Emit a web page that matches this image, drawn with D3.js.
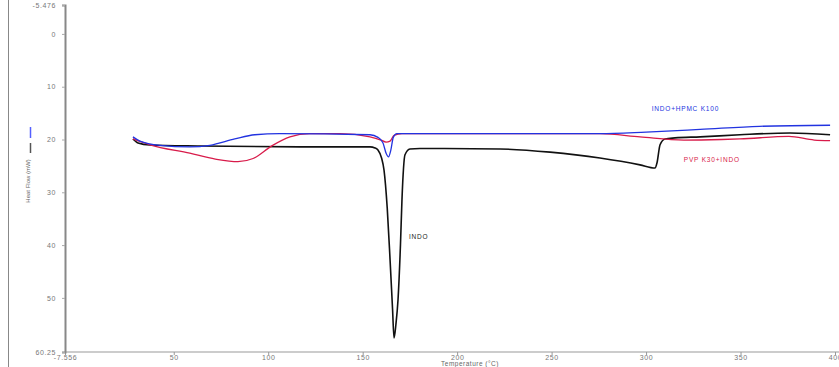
<!DOCTYPE html>
<html>
<head>
<meta charset="utf-8">
<script src="https://cdn.jsdelivr.net/npm/d3@7"></script>
<style>
  body { margin: 0; background: #fff; }
  svg { display: block; font-family: "Liberation Sans", Arial, sans-serif; }
</style>
</head>
<body>
<svg id="chart"></svg>
<script>
// temperature (°C) and heat flow (mW)
const indoT = [28.4, 31.1, 37.4, 63.9, 116.8, 153.9, 156.5, 158.1, 160, 161.3, 163, 164.5, 165.8, 166.6, 167.6, 168.7, 170, 170.8, 172.4, 175.0, 180.3, 222.7, 249.2, 275.6, 296.8, 304.7, 305.8, 307.4, 310.0, 315.3, 328.6, 349.7, 376.2, 397.4];
const indoHF = [19.9, 20.66, 21.04, 21.23, 21.4, 21.4, 21.6, 22.0, 23.5, 25.8, 33, 42.8, 52, 57.6, 55, 50.4, 40, 31.4, 22.9, 21.8, 21.7, 21.8, 22.4, 23.5, 24.8, 25.4, 24.4, 21.0, 19.9, 19.7, 19.5, 19.1, 18.77, 19.1];

const hpmcT = [28.4, 32.1, 42.7, 58.5, 69.1, 82.3, 92.9, 106.1, 153.9, 158.1, 160.7, 162.4, 163.7, 164.9, 166.2, 168.1, 175.0, 250, 275.6, 300, 328.6, 360, 397.4];
const hpmcHF = [19.5, 20.3, 21.1, 21.4, 21.1, 19.9, 19.1, 18.9, 19.1, 19.6, 20.6, 22.6, 23.3, 22.0, 19.6, 18.9, 18.9, 18.9, 18.9, 18.6, 18.1, 17.5, 17.3];

const pvpT = [28.4, 37.4, 58.5, 72, 84, 92, 101.9, 111.5, 122.0, 138.0, 153.9, 159.7, 162.4, 164.5, 166.6, 170.8, 250, 275.6, 296.8, 320, 340, 349.7, 375.6, 389, 397.4];
const pvpHF = [19.9, 21.0, 22.6, 23.7, 24.2, 23.6, 21.2, 19.5, 18.9, 18.9, 19.5, 20.1, 20.5, 20.3, 19.2, 18.9, 18.9, 18.9, 19.5, 20.1, 20.0, 19.9, 19.4, 20.1, 20.2];

const xTicks = [-7.556, 50, 100, 150, 200, 250, 300, 350, 400];
const yTicks = [-5.476, 0, 10, 20, 30, 40, 50, 60.25];

const series = [
  { name: 'INDO', t: indoT, hf: indoHF, color: '#111111' },
  { name: 'PVP K30+INDO', t: pvpT, hf: pvpHF, color: '#d81b4a' },
  { name: 'INDO+HPMC K100', t: hpmcT, hf: hpmcHF, color: '#2233e0' }
];

const width = 839, height = 367;
const svg = d3.select('#chart').attr('width', width).attr('height', height);

const x = d3.scaleLinear([-7.556, 400], [65, 835]);
const y = d3.scaleLinear([-5.476, 60.25], [5, 352]);

// left frame line
svg.append('line')
  .attr('x1', 8.5).attr('x2', 8.5).attr('y1', 0).attr('y2', height)
  .attr('stroke', '#888').attr('stroke-width', 1);

const xAxis = d3.axisBottom(x).tickValues(xTicks).tickSize(3)
  .tickFormat(d => d === -7.556 ? '-7.556' : d);
svg.append('g')
  .attr('transform', `translate(0,${y(60.25)})`)
  .call(xAxis)
  .call(g => g.select('.domain').attr('stroke', '#999').attr('d', `M65,0H${width}`))
  .call(g => g.selectAll('.tick line').attr('stroke', '#999'))
  .call(g => g.selectAll('.tick text').attr('fill', '#777').attr('font-size', 7)
    .attr('y', 4).attr('dy', '0.5em').attr('letter-spacing', 0.6));

const yAxis = d3.axisLeft(y).tickValues(yTicks).tickSize(3)
  .tickFormat(d => d === -5.476 ? '-5.476' : d === 60.25 ? '60.25' : d);
svg.append('g')
  .attr('transform', `translate(${x(-7.556)},0)`)
  .call(yAxis)
  .call(g => g.select('.domain').attr('stroke', '#888').attr('stroke-width', 2))
  .call(g => g.selectAll('.tick line').attr('stroke', '#aaa'))
  .call(g => g.selectAll('.tick text').attr('fill', '#777').attr('font-size', 7)
    .attr('x', -9).attr('letter-spacing', 0.6));

// axis titles
svg.append('text')
  .attr('x', 470).attr('y', 366)
  .attr('text-anchor', 'middle')
  .attr('font-size', 6.5).attr('fill', '#666').attr('letter-spacing', 0.5)
  .text('Temperature (°C)');

svg.append('text')
  .attr('transform', 'translate(30,181) rotate(-90)')
  .attr('text-anchor', 'middle')
  .attr('font-size', 6).attr('fill', '#666')
  .text('Heat Flow (mW)');

// legend marks
svg.append('line').attr('x1', 30.5).attr('x2', 30.5).attr('y1', 127).attr('y2', 138)
  .attr('stroke', '#5560ff').attr('stroke-width', 1.5);
svg.append('line').attr('x1', 30.5).attr('x2', 30.5).attr('y1', 143).attr('y2', 153)
  .attr('stroke', '#555').attr('stroke-width', 1.5);

const line = d3.line().curve(d3.curveMonotoneX)
  .x(d => x(d[0])).y(d => y(d[1]));

for (const s of series) {
  svg.append('path')
    .attr('fill', 'none')
    .attr('stroke', s.color)
    .attr('stroke-width', s.name === 'INDO' ? 1.6 : 1.3)
    .attr('stroke-linejoin', 'round')
    .attr('d', line(s.t.map((t, i) => [t, s.hf[i]])));
}

// curve labels
const labels = [
  { text: 'INDO+HPMC K100', t: 303, hf: 14.6, color: '#2233e0' },
  { text: 'PVP K30+INDO', t: 320, hf: 24.3, color: '#d81b4a' },
  { text: 'INDO', t: 174.5, hf: 38.9, color: '#222' }
];
svg.append('g').selectAll('text')
  .data(labels)
  .join('text')
  .attr('x', d => x(d.t)).attr('y', d => y(d.hf))
  .attr('font-size', 6.5).attr('letter-spacing', 0.8)
  .attr('fill', d => d.color)
  .text(d => d.text);
</script>
</body>
</html>
